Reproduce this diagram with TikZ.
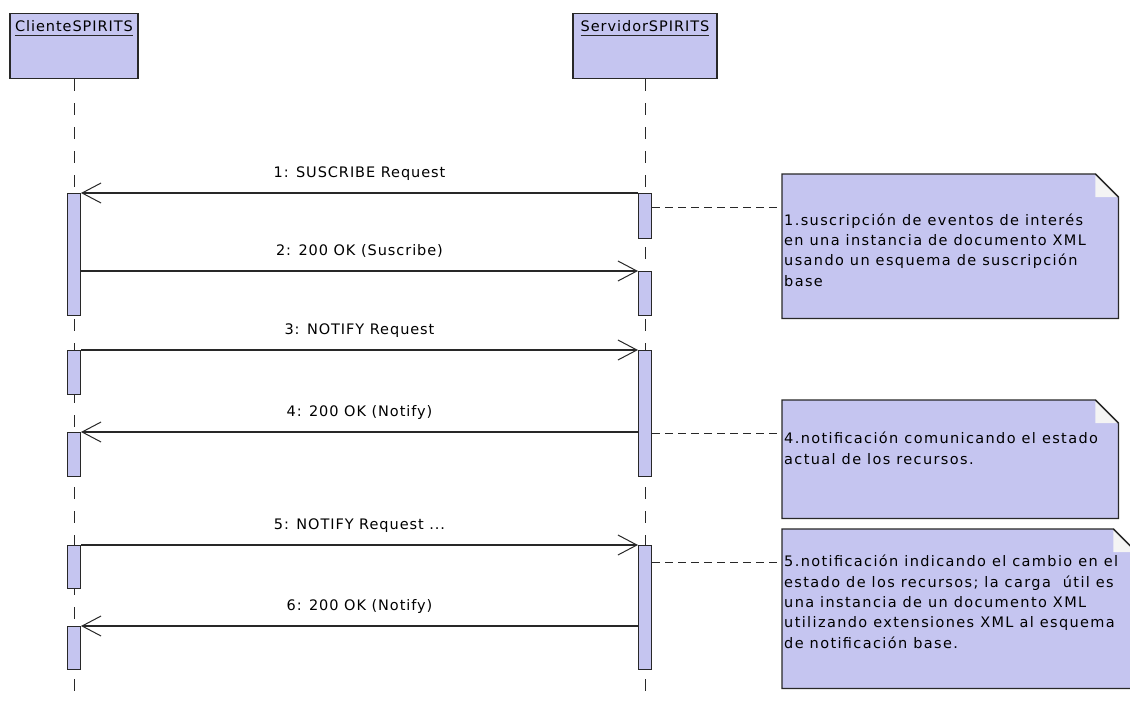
\documentclass[tikz,border=0pt]{standalone}
\usepackage{fontspec}
\setmainfont{DejaVu Sans}
\newfontfamily\msgfont[LetterSpace=6.5]{DejaVu Sans}
\newfontfamily\notefont[LetterSpace=9.5]{DejaVu Sans}
\usetikzlibrary{arrows.meta}

\definecolor{umlfill}{RGB}{197,197,240}
\definecolor{umlline}{RGB}{40,40,40}
\definecolor{foldfill}{RGB}{244,244,244}

\tikzset{
  headbox/.style={draw=umlline, fill=umlfill, line width=1.3pt, minimum height=65pt, inner sep=0pt},
  headtitle/.style={font=\msgfont\fontsize{14.5}{17}\selectfont, inner sep=0pt, anchor=base},
  lifeline/.style={draw=umlline, line width=1pt, dash pattern=on 12pt off 12pt},
  actbar/.style={draw=umlline, fill=umlfill, line width=1pt, minimum width=13pt, inner sep=0pt, anchor=north},
  msg/.style={draw=umlline, line width=1.1pt, -{Straight Barb[length=19pt, width=20pt, line width=1pt]}},
  msglabel/.style={font=\msgfont\fontsize{14.5}{17}\selectfont, inner sep=0pt, anchor=base, yshift=16pt, midway},
  notebox/.style={inner sep=0pt, anchor=north west},
  noteshape/.style={draw=umlline, fill=umlfill, line width=1.3pt, line join=miter},
  % anchored at the baseline of the last line
  notetext/.style={font=\notefont\fontsize{14.5}{20.3}\selectfont, align=left, inner sep=0pt, anchor=base west},
  notelink/.style={draw=umlline, line width=1pt, dash pattern=on 7.5pt off 5.5pt},
}

% note outline with a folded top-right corner
\newcommand{\umlnote}[1]{%
  \path[noteshape] (#1.north west) -- ([xshift=-23pt]#1.north east)
    -- ([yshift=-23pt]#1.north east) -- (#1.south east) -- (#1.south west) -- cycle;
  \fill[foldfill] ([xshift=-23pt]#1.north east) -- ([xshift=-23pt,yshift=-23pt]#1.north east)
    -- ([yshift=-23pt]#1.north east) -- cycle;
  \draw[umlline, line width=1.3pt] ([xshift=-23pt]#1.north east) -- ([yshift=-23pt]#1.north east);
}

\begin{document}
\begin{tikzpicture}[x=1pt, y=-1pt]
\useasboundingbox (0,0) rectangle (1130,702);
\clip (0,0) rectangle (1130,702);
\fill[white] (0,0) rectangle (1130,702);

% participants
\node[headbox, minimum width=128pt, anchor=north] (cli) at (74,13) {};
\node[headbox, minimum width=144pt, anchor=north] (srv) at (645,13) {};
\node[headtitle] (clit) at (74,31.5) {ClienteSPIRITS};
\node[headtitle] (srvt) at (645,31.5) {ServidorSPIRITS};
\draw[umlline, line width=1pt] ([yshift=-4pt]clit.base west) -- ([yshift=-4pt]clit.base east);
\draw[umlline, line width=1pt] ([yshift=-4pt]srvt.base west) -- ([yshift=-4pt]srvt.base east);

% lifelines
\coordinate (cliend) at (74,702);
\coordinate (srvend) at (645,702);
\draw[lifeline] (cli.south) -- (cliend);
\draw[lifeline] (srv.south) -- (srvend);

% activation bars, client side
\node[actbar, minimum height=122pt] (c1) at (74,193) {};
\node[actbar, minimum height=44pt]  (c2) at (74,350) {};
\node[actbar, minimum height=44pt]  (c3) at (74,432) {};
\node[actbar, minimum height=43pt]  (c4) at (74,545) {};
\node[actbar, minimum height=43pt]  (c5) at (74,626) {};

% activation bars, server side
\node[actbar, minimum height=45pt]  (s1) at (645,193) {};
\node[actbar, minimum height=44pt]  (s2) at (645,271) {};
\node[actbar, minimum height=126pt] (s3) at (645,350) {};
\node[actbar, minimum height=124pt] (s4) at (645,545) {};

% messages
\draw[msg] (s1.north west) -- node[msglabel] {1: SUSCRIBE Request} (c1.north east);
\draw[msg] (c1.east |- s2.north) -- node[msglabel] {2: 200 OK (Suscribe)} (s2.north west);
\draw[msg] (c2.north east) -- node[msglabel] {3: NOTIFY Request} (s3.north west);
\draw[msg] (s3.west |- c3.north) -- node[msglabel] {4: 200 OK (Notify)} (c3.north east);
\draw[msg] (c4.north east) -- node[msglabel] {5: NOTIFY Request ...} (s4.north west);
\draw[msg] (s4.west |- c5.north) -- node[msglabel] {6: 200 OK (Notify)} (c5.north east);

% notes
\node[notebox, minimum width=336pt, minimum height=144pt] (n1) at (782,174) {};
\node[notebox, minimum width=336pt, minimum height=118pt] (n4) at (782,400) {};
\node[notebox, minimum width=354pt, minimum height=159pt] (n5) at (782,529) {};
\umlnote{n1}
\umlnote{n4}
\umlnote{n5}

\node[notetext] (n1t) at (784,286) {1.suscripción de eventos de interés\\en una instancia de documento XML\\usando un esquema de suscripción\\base};
\node[notetext] (n4t) at (784,464) {4.notificación comunicando el estado\\actual de los recursos.};
\node[notetext] (n5t) at (784,648) {5.notificación indicando el cambio en el\\estado de los recursos; la carga\ \ útil es\\una instancia de un documento XML\\utilizando extensiones XML al esquema\\de notificación base.};

% note attachments
\coordinate (k1) at (652,207);
\coordinate (k4) at (652,433);
\coordinate (k5) at (652,562);
\draw[notelink] (k1) -- (k1 -| n1.west);
\draw[notelink] (k4) -- (k4 -| n4.west);
\draw[notelink] (k5) -- (k5 -| n5.west);
\end{tikzpicture}
\end{document}
